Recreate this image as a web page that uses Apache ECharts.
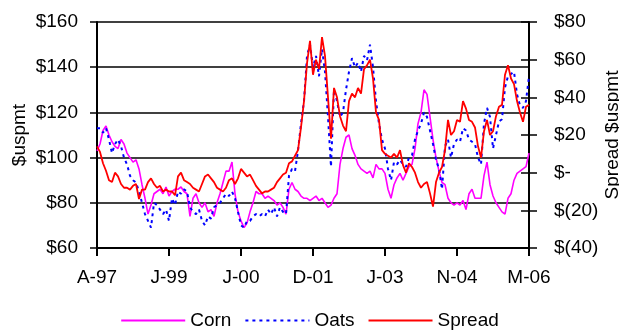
<!DOCTYPE html>
<html>
<head>
<meta charset="utf-8">
<script src="https://cdn.jsdelivr.net/npm/echarts@6/dist/echarts.min.js"></script>
<style>
  html, body { margin: 0; padding: 0; background: #fff; }
  #chart { width: 619px; height: 331px; }
</style>
</head>
<body>
<div id="chart"></div>
<script>
// Weekly-ish observations, Apr 1997 to Mar 2006; a tick label every 24 periods
const tickLabels = ['A-97', 'J-99', 'J-00', 'D-01', 'J-03', 'N-04', 'M-06'];
const periodsPerTick = 24;

// Corn price, $/mt (left axis)
const corn = [
  103, 106, 112, 114, 110, 107, 105, 104, 108, 106, 102, 100, 98, 99, 95, 88, 82, 75, 79, 84,
  85, 86, 84, 87, 83, 85, 86, 86, 87, 85, 84, 74, 82, 84, 80, 78, 80, 76, 77, 74,
  80, 84, 89, 94, 94, 98, 84, 76, 72, 69, 71, 76, 80, 85, 84, 84, 82, 83, 82, 81,
  79, 80, 78, 75, 86, 89, 86, 85, 83, 82, 82, 81, 82, 83, 81, 82, 80, 78, 79, 82,
  84, 97, 104, 109, 110, 104, 101, 97, 95, 94, 93, 94, 91, 97, 95, 95, 93, 86, 82, 88,
  91, 93, 90, 93, 96, 97, 104, 115, 120, 130, 128, 118, 108, 100, 94, 89, 88, 82, 80, 79,
  80, 79, 81, 77, 84, 86, 82, 82, 82, 92, 98, 88, 83, 80, 78, 76, 75, 82, 84, 90,
  93, 94, 95, 96, 102
];

// Oats price, $/mt (left axis)
const oats = [
  113, 113, 111, 113, 108, 102, 106, 108, 105, 100, 97, 92, 90, 89, 85, 80, 75, 72, 69, 80,
  79, 77, 75, 77, 72, 82, 79, 85, 84, 86, 85, 78, 76, 75, 77, 72, 70, 74, 73, 78,
  79, 80, 82, 84, 83, 85, 82, 76, 70, 69, 72, 72, 74, 75, 74, 75, 74, 77, 75, 78,
  74, 78, 76, 75, 92, 95, 94, 103, 115, 125, 145, 150, 140, 145, 136, 148, 138, 118, 96, 130,
  125, 118, 120, 130, 138, 144, 140, 142, 138, 145, 143, 150, 140, 125, 115, 108, 104, 95, 90, 98,
  97, 99, 97, 96, 100, 101, 108, 112, 115, 120, 118, 112, 106, 99, 95, 86, 105, 108, 100, 106,
  108, 107, 113, 112, 108, 107, 106, 100, 97, 115, 122, 118, 104, 110, 116, 117, 131, 136, 137, 138,
  128, 123, 122, 125, 136
];

// Oats minus corn, $/mt (right axis)
const spread = [
  14, 11, 5, 1, -4, -5, 0, -2, -6, -8, -8, -9, -7, -6, -14, -9, -9, -5, -3, -6,
  -8, -7, -10, -9, -10, -10, -12, -2, 0, -4, -5, -6, -8, -9, -10, -6, -2, -1, -3, -5,
  -8, -9, -10, -8, -4, -3, -6, -3, 2, 0, -2, -1, -4, -7, -9, -11, -10, -10, -9, -8,
  -5, -3, -1, 0, 5, 6, 9, 12, 24, 38, 58, 70, 52, 60, 55, 72, 62, 40, 18, 45,
  40, 30, 25, 22, 38, 42, 40, 45, 42, 55, 57, 60, 50, 32, 28, 12, 10, 9, 8, 10,
  8, 12, 4, 0, 5, 3, 0, -5, -8, -6, -5, -11, -18, -5, 0, 3, 12, 28, 20, 22,
  28, 27, 38, 34, 28, 27, 24, 14, 8, 22, 28, 20, 22, 30, 35, 36, 52, 57, 50, 47,
  38, 32, 27, 35, 36
];

const categories = corn.map((_, i) => String(i));

const FONT = 'Liberation Sans, Arial, sans-serif';
const axisLineStyle = { color: '#000', width: 2 };

function money(v) {
  if (v === 0) return '$-';
  return v < 0 ? '$(' + Math.abs(v) + ')' : '$' + v;
}

const chart = echarts.init(document.getElementById('chart'), null, { renderer: 'canvas' });

chart.setOption({
  animation: false,
  backgroundColor: '#fff',
  textStyle: { fontFamily: FONT, color: '#000' },
  grid: { left: 97, right: 90, top: 22, bottom: 83, containLabel: false, outerBoundsMode: 'none' },
  legend: {
    bottom: -4,
    left: 'center',
    itemWidth: 64,
    itemHeight: 14,
    itemGap: 13,
    itemStyle: { opacity: 0 },
    textStyle: { fontFamily: FONT, fontSize: 19, color: '#000' },
    data: ['Corn', 'Oats', 'Spread']
  },
  xAxis: {
    type: 'category',
    data: categories,
    boundaryGap: false,
    axisLine: { onZero: false, lineStyle: axisLineStyle },
    axisTick: { interval: periodsPerTick - 1, length: 8, lineStyle: { color: '#000', width: 2 } },
    axisLabel: {
      interval: periodsPerTick - 1,
      margin: 20,
      fontSize: 19,
      fontFamily: FONT,
      color: '#000',
      formatter: v => tickLabels[Number(v) / periodsPerTick] || ''
    },
    splitLine: { show: false }
  },
  yAxis: [
    {
      type: 'value',
      min: 60, max: 160, interval: 20,
      position: 'left',
      name: '$uspmt',
      nameLocation: 'middle',
      nameGap: 68,
      nameRotate: 90,
      nameMoveOverlap: false,
      nameTextStyle: { fontFamily: FONT, fontSize: 19, color: '#000' },
      axisLine: { show: true, lineStyle: axisLineStyle },
      axisTick: { show: true, length: 7, lineStyle: { color: '#000', width: 1.5 } },
      axisLabel: { margin: 19, fontSize: 19, fontFamily: FONT, color: '#000', formatter: v => '$' + v },
      splitLine: { show: true, lineStyle: { color: '#000', width: 1.5 } }
    },
    {
      type: 'value',
      min: -40, max: 80, interval: 20,
      position: 'right',
      name: 'Spread $uspmt',
      nameLocation: 'middle',
      nameGap: 74,
      nameRotate: 90,
      nameMoveOverlap: false,
      nameTextStyle: { fontFamily: FONT, fontSize: 19, color: '#000' },
      axisLine: { show: true, onZero: false, lineStyle: axisLineStyle },
      axisTick: { show: true, length: 8, lineStyle: { color: '#000', width: 1.5 } },
      axisLabel: { margin: 25, fontSize: 19, fontFamily: FONT, color: '#000', formatter: money },
      splitLine: { show: false }
    },
    {
      // inner half of the right-hand ticks
      type: 'value',
      min: -40, max: 80, interval: 20,
      position: 'right',
      axisLine: { show: false, onZero: false },
      axisTick: { show: true, inside: true, length: 8, lineStyle: { color: '#000', width: 1.5 } },
      axisLabel: { show: false },
      splitLine: { show: false }
    }
  ],
  series: [
    {
      name: 'Corn', type: 'line', yAxisIndex: 0, data: corn,
      symbol: 'none', color: '#FF00FF',
      lineStyle: { color: '#FF00FF', width: 1.6 }
    },
    {
      name: 'Oats', type: 'line', yAxisIndex: 0, data: oats,
      symbol: 'none', color: '#0000FF',
      lineStyle: { color: '#0000FF', width: 2, type: [3, 4] }
    },
    {
      name: 'Spread', type: 'line', yAxisIndex: 1, data: spread,
      symbol: 'none', color: '#FF0000',
      lineStyle: { color: '#FF0000', width: 1.8 }
    }
  ]
});
</script>
</body>
</html>
